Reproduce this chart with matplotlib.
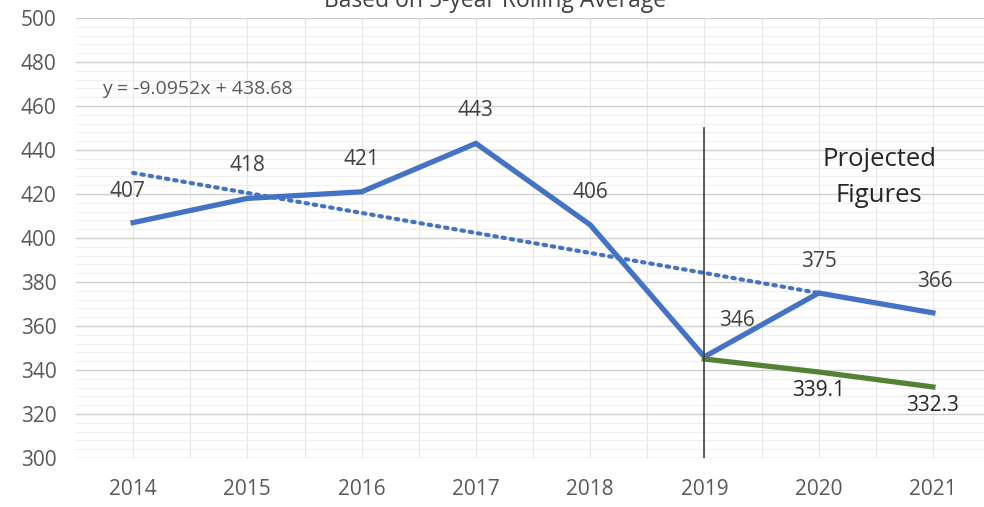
import matplotlib.pyplot as plt
import numpy as np
from matplotlib.ticker import MultipleLocator

years = ['2014', '2015', '2016', '2017', '2018', '2019', '2020', '2021']
rolling_avg = [407, 418, 421, 443, 406, 346, 375, 366]
projected_years = ['2019', '2020', '2021']
projected = [345, 339.1, 332.3]
trend_slope = -9.0952
trend_intercept = 438.68
trend_points = 7  # trendline fitted over 2014-2020

plt.rcParams['font.family'] = ['Open Sans', 'DejaVu Sans']

blue = '#4472C4'
green = '#548235'
grey_text = '#595959'

fig = plt.figure(figsize=(9.84, 5.07), dpi=100)
axis = fig.add_axes([76 / 984, 1 - 458 / 507, 914 / 984, 440 / 507])

x = np.arange(len(years))
x_proj = np.array([years.index(y) for y in projected_years])

# trendline from the equation shown on the chart (x = 1 for first year)
xt = np.arange(1, trend_points + 1)
axis.plot(xt - 1, trend_slope * xt + trend_intercept, color=blue, lw=3.0,
          ls=(0, (0.6, 1.4)), dash_capstyle='round', zorder=3)

axis.plot(x, rolling_avg, color=blue, lw=3.8, solid_joinstyle='miter', zorder=4)
axis.plot(x_proj, projected, color=green, lw=3.8, zorder=4)

# 2019 divider
axis.plot([5, 5], [300, 450], color='#404040', lw=1.2, zorder=5)

label_offsets = [(-6, 31), (0, 33), (0, 32), (0, 33), (0, 32), (33, 36), (0, 32), (2, 31)]
for xi, v, (dx, dy) in zip(x, rolling_avg, label_offsets):
    axis.annotate(f'{v}', xy=(xi, v), xytext=(dx / 1.389, dy / 1.389), textcoords='offset points',
                  ha='center', va='center', fontsize=15, color='#404040')

for xi, v in zip(x_proj[1:], projected[1:]):
    axis.annotate(f'{v}', xy=(xi, v), xytext=(0, -19 / 1.389), textcoords='offset points',
                  ha='center', va='center', fontsize=15, color='#262626')

axis.text(26 / 914, 1 - 71 / 440, f'y = {trend_slope}x + {trend_intercept}', transform=axis.transAxes,
          ha='left', va='center', fontsize=14, color=grey_text)
axis.text(6.53, 427.5, 'Projected\nFigures', ha='center', va='center', fontsize=18.5,
          color='#262626', linespacing=1.55)

axis.set_xlim(-0.5, 7.5)
axis.set_ylim(300, 500)
axis.set_xticks(x)
axis.set_xticklabels(years)
axis.set_xticks(x + 0.5, minor=True)
axis.yaxis.set_major_locator(MultipleLocator(20))
axis.yaxis.set_minor_locator(MultipleLocator(4))
axis.grid(True, which='major', axis='y', color='#d0d0d0', lw=1.0)
axis.grid(True, which='minor', axis='y', color='#f0f0f0', lw=0.8)
axis.grid(True, which='both', axis='x', color='#e6e6e6', lw=0.8)
axis.set_axisbelow(True)
for s in axis.spines.values():
    s.set_visible(False)
axis.tick_params(which='both', length=0)
axis.tick_params(axis='x', pad=15, labelsize=15, labelcolor=grey_text)
axis.tick_params(axis='y', pad=14, labelsize=15, labelcolor=grey_text)

fig.text(0.503, 1 - 7 / 507, 'Based on 5-year Rolling Average', ha='center', va='baseline',
         fontsize=16.5, color='#404040')

plt.savefig('out.png', dpi=100)
